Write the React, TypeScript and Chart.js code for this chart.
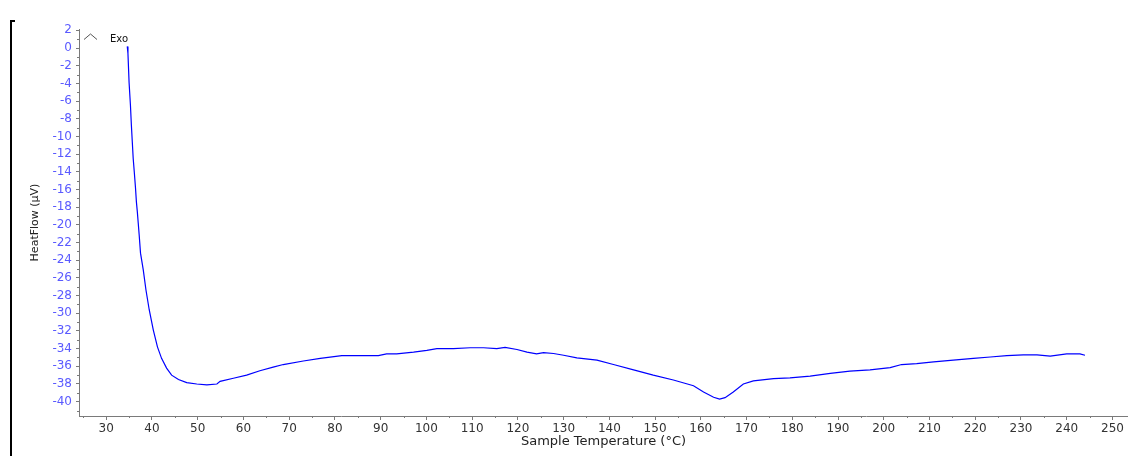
import React, { useEffect, useRef } from "react";
import { Chart, registerables } from "chart.js";

Chart.register(...registerables);

// Sample temperature (°C)
const temperatures: number[] = [
  34.6, 34.75, 35.0, 35.3, 35.5, 35.7, 35.9, 36.15, 36.4, 36.6, 36.8, 37.0, 37.2, 37.5, 38.1, 38.7,
  39.4, 40.3, 41.2, 42.1, 43.2, 44.3, 45.8, 47.6, 49.8, 52.0, 54.2, 54.9, 57.8, 60.7, 63.6, 66.5,
  68.7, 73.1, 76.8, 81.5, 85.5, 87.7, 89.5, 91.3, 93.5, 97.2, 100.1, 102.3, 105.9, 109.6, 112.5,
  115.4, 117.2, 119.8, 122.0, 124.1, 125.6, 127.8, 130.0, 132.9, 137.3, 140.9, 145.3, 149.6, 154.0,
  158.4, 160.6, 162.8, 164.1, 165.3, 167.1, 169.3, 171.5, 175.9, 179.5, 183.9, 188.3, 192.6, 197.0,
  201.4, 203.9, 207.2, 210.9, 215.2, 219.6, 223.3, 226.9, 230.5, 233.5, 236.4, 240.0, 242.9, 244.0,
];

// HeatFlow (µV)
const heatFlow: number[] = [
  0.18, -0.6, -3.9, -6.5, -8.7, -10.6, -12.5, -14.1, -15.8, -17.4, -18.5, -19.8, -21.1, -23.2, -25.1, -27.4,
  -29.6, -31.9, -33.8, -35.1, -36.2, -37.0, -37.5, -37.85, -38.0, -38.1, -38.0, -37.7, -37.35, -37.0, -36.5, -36.1,
  -35.8, -35.4, -35.1, -34.8, -34.8, -34.8, -34.8, -34.6, -34.6, -34.4, -34.2, -34.0, -34.0, -33.9, -33.9,
  -34.0, -33.85, -34.1, -34.4, -34.6, -34.45, -34.55, -34.75, -35.05, -35.3, -35.8, -36.4, -37.0, -37.55,
  -38.2, -38.9, -39.5, -39.7, -39.55, -38.9, -38.0, -37.65, -37.4, -37.3, -37.1, -36.8, -36.55, -36.4,
  -36.15, -35.8, -35.7, -35.5, -35.3, -35.1, -34.95, -34.8, -34.7, -34.7, -34.85, -34.6, -34.6, -34.75,
];

const xMajorTicks: number[] = [30, 40, 50, 60, 70, 80, 90, 100, 110, 120, 130, 140, 150, 160, 170, 180, 190, 200, 210, 220, 230, 240, 250];
const xMinorTicks: number[] = [25, 35, 45, 55, 65, 75, 85, 95, 105, 115, 125, 135, 145, 155, 165, 175, 185, 195, 205, 215, 225, 235, 245];
const yMajorTicks: number[] = [2, 0, -2, -4, -6, -8, -10, -12, -14, -16, -18, -20, -22, -24, -26, -28, -30, -32, -34, -36, -38, -40];
const yMinorTicks: number[] = [1, -1, -3, -5, -7, -9, -11, -13, -15, -17, -19, -21, -23, -25, -27, -29, -31, -33, -35, -37, -39, -41];

const X_MIN = 24.05;
const X_MAX = 253.4;
const Y_MIN = -41.62;
const Y_MAX = 2.15;

const FONT = "'DejaVu Sans', Verdana, sans-serif";
const AXIS_GRAY = "#7a7a7a";

const decorPlugin = {
  id: "decor",
  afterDraw(chart: any) {
    const ctx = chart.ctx;
    const xs = chart.scales.x;
    const ys = chart.scales.y;
    ctx.save();
    // minor ticks
    ctx.strokeStyle = AXIS_GRAY;
    ctx.lineWidth = 1;
    ctx.beginPath();
    xMinorTicks.forEach((t) => {
      const px = Math.round(xs.getPixelForValue(t)) + 0.5;
      ctx.moveTo(px, xs.top);
      ctx.lineTo(px, xs.top + 2);
    });
    yMinorTicks.forEach((v) => {
      const py = Math.round(ys.getPixelForValue(v)) + 0.5;
      ctx.moveTo(ys.right - 2, py);
      ctx.lineTo(ys.right, py);
    });
    ctx.stroke();

    // left bracket
    ctx.fillStyle = "#000";
    ctx.fillRect(10, 20, 2, 436);
    ctx.fillRect(10, 20, 5, 2);

    // Exo marker
    ctx.strokeStyle = "#555";
    ctx.lineWidth = 1;
    ctx.beginPath();
    ctx.moveTo(84, 39.5);
    ctx.lineTo(90.5, 34);
    ctx.lineTo(97, 39.5);
    ctx.stroke();
    ctx.fillStyle = "#111";
    ctx.font = `10px ${FONT}`;
    ctx.textAlign = "left";
    ctx.textBaseline = "middle";
    ctx.fillText("Exo", 110, 39.5);
    ctx.restore();
  },
};

export default function App() {
  const canvasRef = useRef<HTMLCanvasElement | null>(null);

  useEffect(() => {
    if (!canvasRef.current) return;
    const points = temperatures.map((t, i) => ({ x: t, y: heatFlow[i] }));
    const chart = new Chart(canvasRef.current, {
      type: "line",
      data: {
        datasets: [
          {
            data: points,
            borderColor: "#0000ff",
            borderWidth: 1.2,
            pointRadius: 0,
            tension: 0,
            fill: false,
          },
        ],
      },
      options: {
        animation: false,
        responsive: false,
        maintainAspectRatio: false,
        layout: { padding: { top: 29, left: 0, right: 0, bottom: 0 } },
        plugins: {
          legend: { display: false },
          tooltip: { enabled: false },
        },
        scales: {
          x: {
            type: "linear",
            min: X_MIN,
            max: X_MAX,
            afterBuildTicks: (scale: any) => {
              scale.ticks = xMajorTicks.map((v) => ({ value: v }));
            },
            afterFit: (scale: any) => {
              scale.height = 40;
              scale.paddingLeft = 0;
              scale.paddingRight = 0;
            },
            grid: {
              display: true,
              drawOnChartArea: false,
              drawTicks: true,
              tickLength: 4,
              tickColor: AXIS_GRAY,
              tickWidth: 1,
            },
            border: { display: true, color: AXIS_GRAY, width: 1 },
            ticks: {
              autoSkip: false,
              maxRotation: 0,
              padding: 1.5,
              color: "#333",
              font: { family: FONT, size: 12 },
              callback: (v: any) => String(v),
            },
            title: {
              display: true,
              text: "Sample Temperature (°C)",
              color: "#222",
              font: { family: FONT, size: 13 },
              padding: { top: 0, bottom: 7 },
            },
          },
          y: {
            type: "linear",
            min: Y_MIN,
            max: Y_MAX,
            afterBuildTicks: (scale: any) => {
              scale.ticks = yMajorTicks.map((v) => ({ value: v }));
            },
            afterFit: (scale: any) => {
              scale.width = 79;
              scale.paddingTop = 0;
              scale.paddingBottom = 0;
            },
            grid: {
              display: true,
              drawOnChartArea: false,
              drawTicks: true,
              tickLength: 3,
              tickColor: AXIS_GRAY,
              tickWidth: 1,
            },
            border: { display: true, color: AXIS_GRAY, width: 1 },
            ticks: {
              autoSkip: false,
              padding: 4,
              color: "#5a5aff",
              font: { family: FONT, size: 12 },
              callback: (v: any) => String(v),
            },
            title: {
              display: true,
              text: "HeatFlow (µV)",
              color: "#222",
              font: { family: FONT, size: 11 },
              padding: { top: 29, bottom: 0 },
            },
          },
        },
      },
      plugins: [decorPlugin],
    });
    return () => chart.destroy();
  }, []);

  return (
    <div style={{ position: "fixed", left: 0, top: 0, width: 1128, height: 456, background: "#fff" }}>
      <canvas ref={canvasRef} width={1128} height={456} style={{ display: "block" }} />
    </div>
  );
}
